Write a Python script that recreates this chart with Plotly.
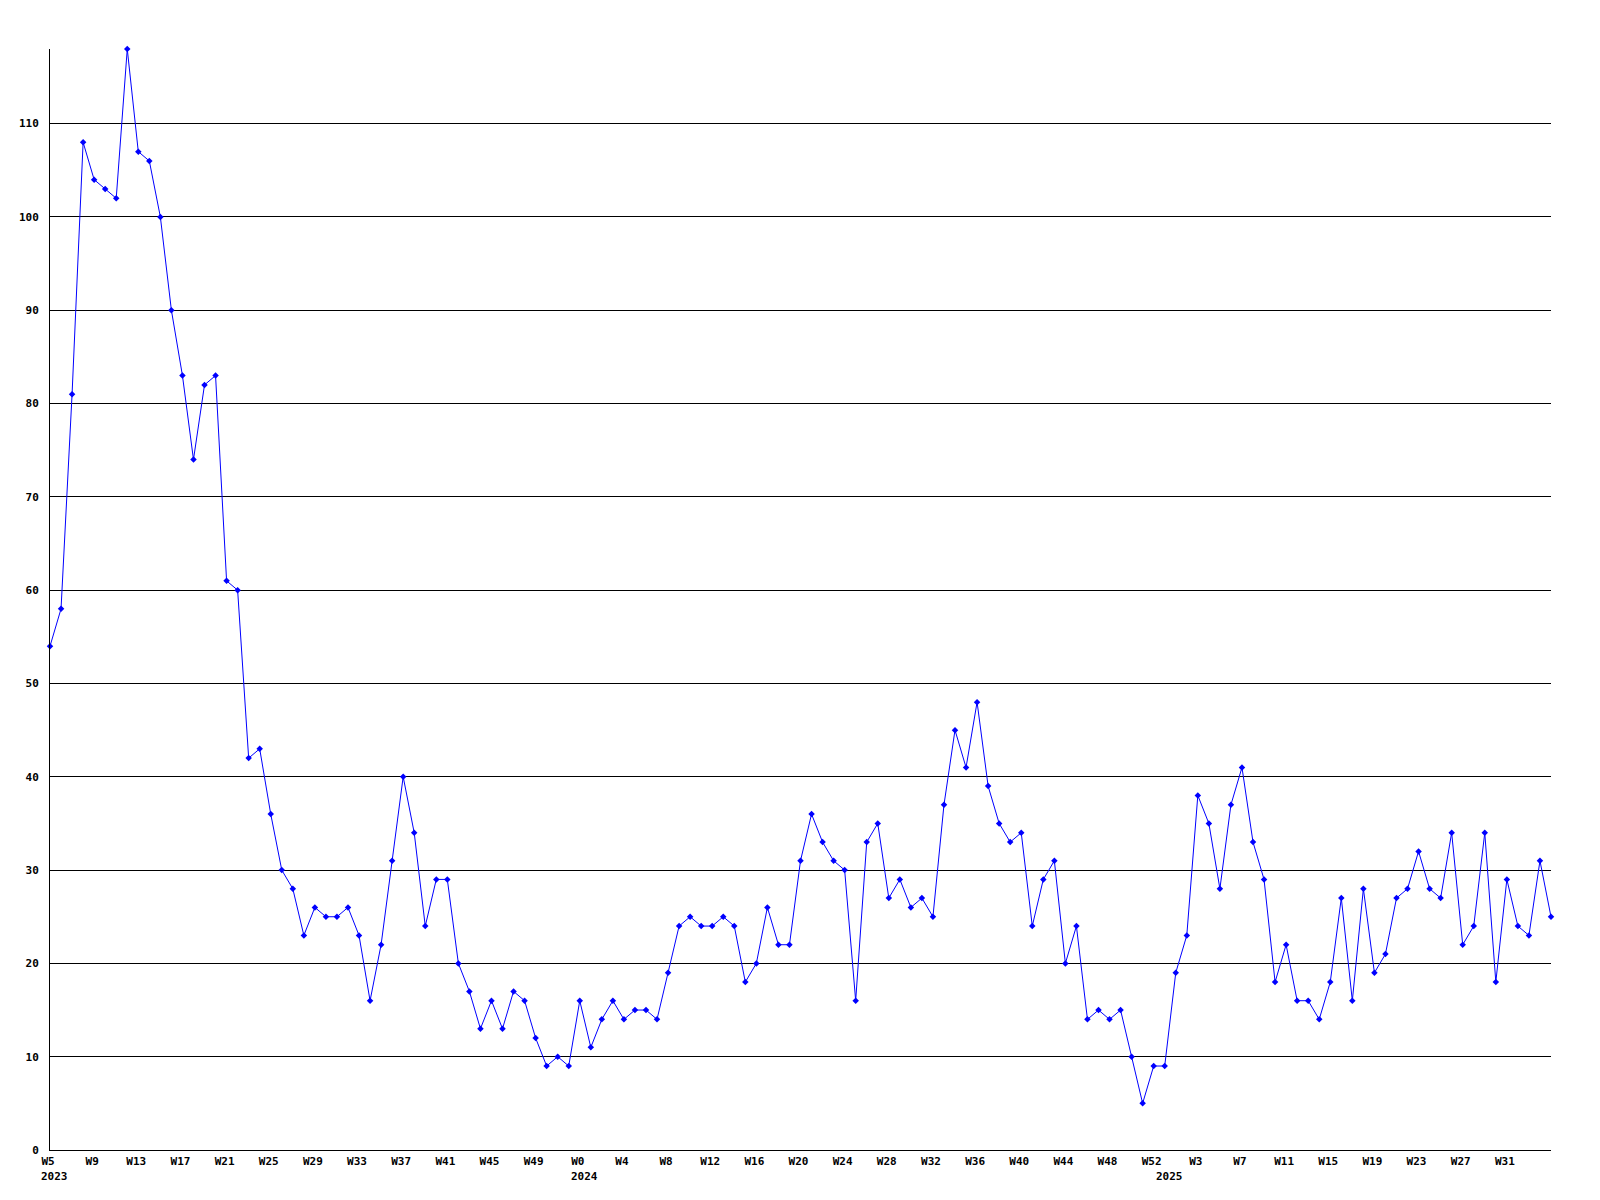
import plotly.graph_objects as go

# Categories (one per week, sequential)
weeks_2023 = [f"2023 W{w}" for w in range(5, 53)]
weeks_2024 = [f"2024 W{w}" for w in range(0, 53)]
weeks_2025 = [f"2025 W{w}" for w in range(0, 36)]
categories = weeks_2023 + weeks_2024 + weeks_2025

values_2023 = [54, 58, 81, 108, 104, 103, 102, 118, 107, 106,
               100, 90, 83, 74, 82, 83, 61, 60, 42, 43,
               36, 30, 28, 23, 26, 25, 25, 26, 23, 16,
               22, 31, 40, 34, 24, 29, 29, 20, 17, 13,
               16, 13, 17, 16, 12, 9, 10, 9]
values_2024 = [16, 11, 14, 16, 14, 15, 15, 14, 19, 24,
               25, 24, 24, 25, 24, 18, 20, 26, 22, 22,
               31, 36, 33, 31, 30, 16, 33, 35, 27, 29,
               26, 27, 25, 37, 45, 41, 48, 39, 35, 33,
               34, 24, 29, 31, 20, 24, 14, 15, 14, 15,
               10, 5, 9]
values_2025 = [9, 19, 23, 38, 35, 28, 37, 41, 33, 29,
               18, 22, 16, 16, 14, 18, 27, 16, 28, 19,
               21, 27, 28, 32, 28, 27, 34, 22, 24, 34,
               18, 29, 24, 23, 31, 25]
values = values_2023 + values_2024 + values_2025

# Tick labels (every 4th week)
tick_cats = ["2023 W5", "2023 W9", "2023 W13", "2023 W17", "2023 W21", "2023 W25",
             "2023 W29", "2023 W33", "2023 W37", "2023 W41", "2023 W45", "2023 W49",
             "2024 W0", "2024 W4", "2024 W8", "2024 W12", "2024 W16", "2024 W20",
             "2024 W24", "2024 W28", "2024 W32", "2024 W36", "2024 W40", "2024 W44",
             "2024 W48", "2024 W52",
             "2025 W3", "2025 W7", "2025 W11", "2025 W15", "2025 W19", "2025 W23",
             "2025 W27", "2025 W31"]
tick_text = [c.split(" ")[1] for c in tick_cats]

year_labels = ["2023", "2024", "2025"]
year_cats = ["2023 W5", "2024 W0", "2025 W0"]

y_ticks = [0, 10, 20, 30, 40, 50, 60, 70, 80, 90, 100, 110]

FONT = dict(family="DejaVu Sans Mono", size=11, color="black", weight="bold")

fig = go.Figure()
fig.add_trace(go.Scatter(
    x=categories, y=values, mode="lines+markers",
    line=dict(color="#0000ff", width=1),
    marker=dict(symbol="diamond", size=5, color="#0000ff"),
    cliponaxis=False, showlegend=False, hoverinfo="x+y",
))

for lab, cat in zip(year_labels, year_cats):
    fig.add_annotation(x=cat, xref="x", y=0, yref="paper", text=lab,
                       showarrow=False, xanchor="left", yanchor="middle",
                       xshift=-11, yshift=-26, font=FONT)

fig.update_layout(
    width=1584, height=1184,
    margin=dict(l=42, r=41, t=41, b=42, pad=0),
    paper_bgcolor="white", plot_bgcolor="white",
    font=FONT,
)
fig.update_xaxes(
    type="category", categoryorder="array", categoryarray=categories,
    range=[0, len(categories) - 1],
    tickmode="array", tickvals=tick_cats, ticktext=tick_text,
    showgrid=False, zeroline=False,
    showline=True, linecolor="black", linewidth=1,
    ticks="", ticklabelstandoff=1, ticklabelshift=-2,
    tickfont=FONT,
)
fig.update_yaxes(
    range=[0, 118],
    tickmode="array", tickvals=y_ticks,
    showgrid=True, gridcolor="black", gridwidth=1,
    zeroline=False,
    showline=True, linecolor="black", linewidth=1,
    ticks="", ticklabelstandoff=8,
    tickfont=FONT,
)

fig.write_html("out.html")
